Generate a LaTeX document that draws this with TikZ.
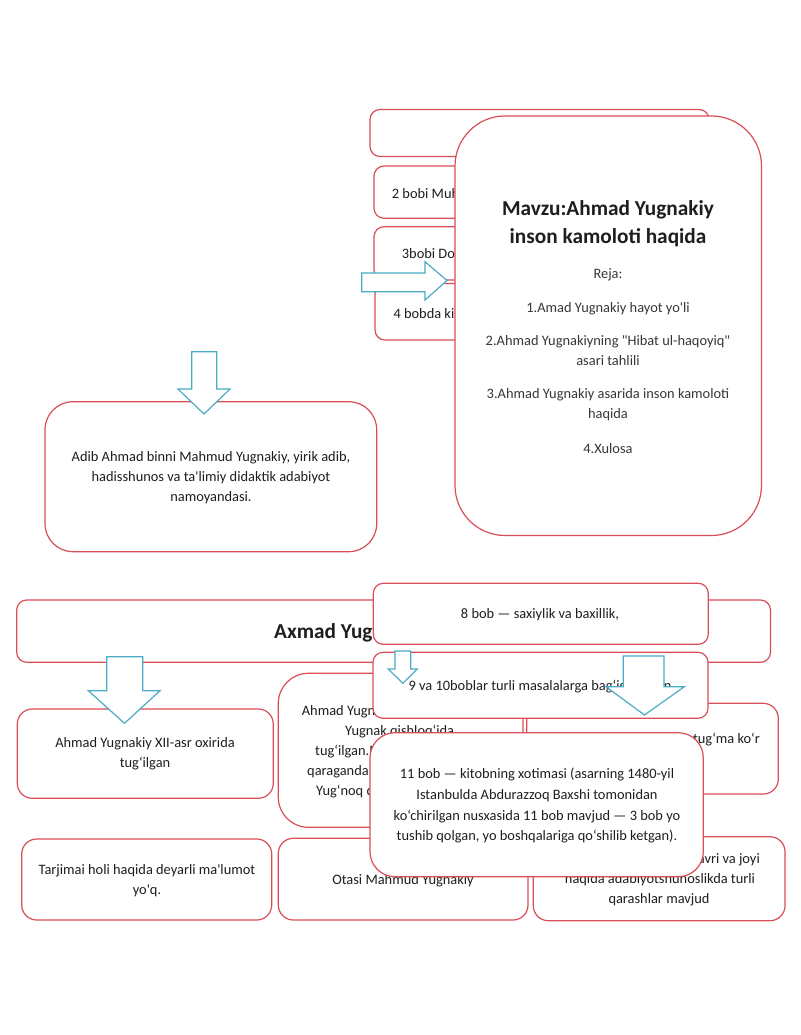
\documentclass[tikz,border=0pt]{standalone}
\usepackage{fontspec}
\setmainfont{Carlito}[Ligatures=TeXOff]
\usetikzlibrary{fit}
\definecolor{boxred}{RGB}{218,78,88}
\definecolor{arrowblue}{RGB}{75,172,198}
\definecolor{txtc}{RGB}{30,30,30}
\definecolor{txtg}{RGB}{55,55,55}
\tikzset{
  rbox/.style={draw=boxred, fill=white, line width=1.2pt, inner sep=0pt, rounded corners=#1},
  rbox/.default=10pt,
  ln/.style={text=txtc, font=\fontsize{14.4}{20}\selectfont, inner sep=0pt, anchor=base},
  lnw/.style={ln, anchor=base west},
  lne/.style={ln, anchor=base east},
  lng/.style={ln, text=txtg},
  ttl/.style={text=txtc, font=\bfseries\fontsize{21.3}{28}\selectfont, inner sep=0pt, anchor=base},
  barrow/.style={draw=arrowblue, fill=white, line width=1.2pt, line join=miter},
}
\begin{document}
\begin{tikzpicture}[x=1pt,y=-1pt]
\useasboundingbox (0,0) rectangle (800,1035);
\fill[white] (0,0) rectangle (800,1035);

% ---------- top right group ----------
\node[rbox=10pt, fit={(370,109.5) (709,156.5)}] (boxA) {};
\node[rbox=10pt, fit={(374,166) (700,218.3)}] (boxB) {};
\node[lnw] (tB) at (391.7,198.3) {2 bobi Muh};
\node[rbox=10pt, fit={(374,226.7) (700,280)}] (boxC) {};
\node[lnw] (tC) at (401.7,258.3) {3bobi Do};
\node[rbox=10pt, fit={(375,283.5) (700,340)}] (boxD) {};
\node[lnw] (tD) at (393.3,318.3) {4 bobda ki};

\draw[barrow] (361.7,273) -- (425,273) -- (425,261.7) -- (447,280.5) -- (425,300) -- (425,291.7) -- (361.7,291.7) -- cycle;

\node[rbox=50pt, fit={(455,116) (761.5,535.5)}] (big) {};
\node[ttl] (t1) at (608,215) {Mavzu:Ahmad Yugnakiy};
\node[ttl] (t2) at (608,243) {inson kamoloti haqida};
\node[lng] (r0) at (608,278) {Reja:};
\node[lng] (r1) at (608,312) {1.Amad Yugnakiy hayot yo'li};
\node[lng] (r2) at (608,345) {2.Ahmad Yugnakiyning "Hibat ul-haqoyiq"};
\node[lng] (r2b) at (608,365) {asari tahlili};
\node[lng] (r3) at (608,398) {3.Ahmad Yugnakiy asarida inson kamoloti};
\node[lng] (r3b) at (608,418) {haqida};
\node[lng] (r4) at (608,453) {4.Xulosa};

% ---------- left middle ----------
\node[rbox=28pt, fit={(45,401.7) (376.7,551.7)}] (boxE) {};
\node[ln] (e1) at (211,461.5) {Adib Ahmad binni Mahmud Yugnakiy, yirik adib,};
\node[ln] (e2) at (211,481.5) {hadisshunos va ta'limiy didaktik adabiyot};
\node[ln] (e3) at (211,501.5) {namoyandasi.};
\draw[barrow] (191.7,351.7) -- (216.7,351.7) -- (216.7,389) -- (230,389) -- (204,414) -- (178,389) -- (191.7,389) -- cycle;

% ---------- bottom section ----------
\node[rbox=10pt, fit={(16.7,600) (770.5,662.3)}] (boxF) {};
\node[ttl, anchor=base west] (tF) at (274,638.3) {Axmad Yugnakiy};

\node[rbox=15pt, fit={(17.3,709) (273.3,798.3)}] (boxH) {};
\node[ln] (h1) at (145,747.3) {Ahmad Yugnakiy XII-asr oxirida};
\node[ln] (h2) at (145,767.3) {tug‘ilgan};

\node[rbox=30pt, fit={(278.3,673.3) (523,827.3)}] (boxI) {};
\node[lnw] (i1) at (301.7,715) {Ahmad Yugnakiy};
\node[lnw] (i2) at (345,735) {Yugnak qishloq‘ida};
\node[lnw] (i3) at (315,755) {tug‘ilgan.M};
\node[lnw] (i4) at (307,775) {qaraganda};
\node[lnw] (i5) at (316,795) {Yug‘noq q};

\node[rbox=15pt, fit={(526.7,703.3) (778.3,794)}] (boxJ) {};
\node[lne] (j1) at (760,743.3) {tug‘ma ko‘r};

\node[rbox=15pt, fit={(21.7,839) (271.7,920)}] (boxK) {};
\node[ln] (k1) at (147,874) {Tarjimai holi haqida deyarli ma'lumot};
\node[ln] (k2) at (147,894) {yo'q.};

\node[rbox=15pt, fit={(278.3,838.3) (528,920)}] (boxO) {};
\node[ln] (o1) at (403,884) {Otasi Mahmud Yugnakiy};

\node[rbox=15pt, fit={(533.3,836.7) (785,920.7)}] (boxM) {};
\node[lne] (m1) at (760,863.3) {avri va joyi};
\node[ln] (m2) at (660,883.3) {haqida adabiyotshunoslikda turli};
\node[ln] (m3) at (659,903.3) {qarashlar mavjud};

\draw[barrow] (106.7,656.7) -- (142.7,656.7) -- (142.7,690.7) -- (160,690.7) -- (124.5,723.3) -- (88.3,690.7) -- (106.7,690.7) -- cycle;

\node[rbox=10pt, fit={(373.3,583.3) (708.3,644.3)}] (boxG) {};
\node[ln] (g1) at (540,618.3) {8 bob — saxiylik va baxillik,};

\node[rbox=10pt, fit={(373,652.3) (708,718.3)}] (boxG2) {};
\node[lnw] (g2) at (408.3,690) {9 va 10boblar turli masalalarga bag‘ishlangan};

\draw[barrow] (395,651) -- (410.7,651) -- (410.7,669) -- (417.3,669) -- (402.8,683.3) -- (388.3,669) -- (395,669) -- cycle;
\draw[barrow] (623.3,656) -- (664,656) -- (664,686.7) -- (684.3,686.7) -- (644.5,715) -- (606,686.7) -- (623.3,686.7) -- cycle;

\node[rbox=25pt, fit={(370,732.7) (703.3,876.7)}] (boxL) {};
\node[ln] (l1) at (537,778.3) {11 bob — kitobning xotimasi (asarning 1480-yil};
\node[ln] (l2) at (537,799.3) {Istanbulda Abdurazzoq Baxshi tomonidan};
\node[ln] (l3) at (537,820) {ko‘chirilgan nusxasida 11 bob mavjud — 3 bob yo};
\node[ln] (l4) at (537,840) {tushib qolgan, yo boshqalariga qo‘shilib ketgan).};
\end{tikzpicture}
\end{document}
